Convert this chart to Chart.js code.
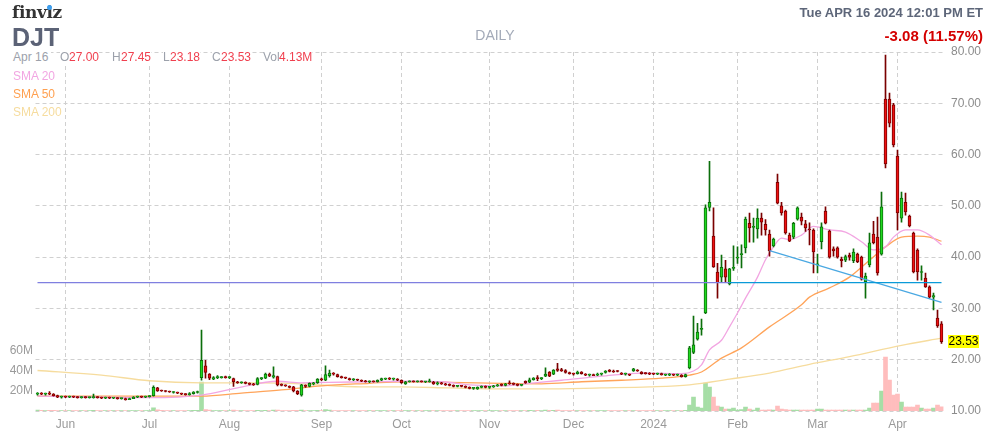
<!DOCTYPE html>
<html>
<head>
<meta charset="utf-8">
<script src="https://cdn.jsdelivr.net/npm/chart.js@4.4.1/dist/chart.umd.min.js"></script>
<style>
  body { margin: 0; background: #fff; }
  #wrap { position: relative; width: 996px; height: 442px; font-family: "Liberation Sans", Arial, sans-serif; }
  #wrap canvas { position: absolute; left: 0; top: 0; }
  .t { position: absolute; white-space: nowrap; line-height: 16px; font-size: 12px; }
  .lg { background: #fff; line-height: 13px; }
  .g { color: #9ca1ab; }
  .r { color: #f0404f; }
</style>
</head>
<body>
<div id="wrap">
  <canvas id="myChart" width="996" height="442"></canvas>

  <div class="t" style="left:12px;top:1px;font:bold 17px 'DejaVu Serif',serif;line-height:22px;color:#333;letter-spacing:-0.4px">finviz</div>
  <div style="position:absolute;left:47px;top:5px;width:5px;height:5px;border-radius:50%;background:#3d9ff0"></div>
  <div class="t" style="left:12px;top:23px;font-size:25px;font-weight:bold;line-height:28px;color:#5b6276">DJT</div>
  <div class="t" style="left:445px;top:27px;width:100px;text-align:center;font-size:14px;color:#a3aab8">DAILY</div>
  <div class="t" style="right:13px;top:5px;font-size:13px;font-weight:bold;color:#5d6679">Tue APR 16 2024 12:01 PM ET</div>
  <div class="t" style="right:13px;top:28px;font-size:15px;font-weight:bold;color:#d40000">-3.08 (11.57%)</div>

  <div class="t lg g" style="left:10px;top:50px;padding:0 3px;line-height:15px">Apr 16</div>
  <div class="t lg g" style="left:60px;top:51px">O</div><div class="t lg r" style="left:69px;top:51px">27.00</div>
  <div class="t lg g" style="left:112px;top:51px">H</div><div class="t lg r" style="left:121px;top:51px">27.45</div>
  <div class="t lg g" style="left:163px;top:51px">L</div><div class="t lg r" style="left:170px;top:51px">23.18</div>
  <div class="t lg g" style="left:212px;top:51px">C</div><div class="t lg r" style="left:221px;top:51px">23.53</div>
  <div class="t lg g" style="left:263px;top:51px">Vol</div><div class="t lg r" style="left:279px;top:51px">4.13M</div>

  <div class="t" style="left:13px;top:68px;color:#f2a6e2">SMA 20</div>
  <div class="t" style="left:13px;top:86px;color:#ffa050">SMA 50</div>
  <div class="t" style="left:13px;top:104px;color:#f6dc9e">SMA 200</div>

  <div id="lastPrice" style="position:absolute;left:948px;top:335px;width:31px;height:13px;line-height:13px;background:#ffff00;color:#000;font-size:12px;text-align:center">23.53</div>
</div>

<script>
// trading days 2023-05-22 .. 2024-04-16
const holidays = ['2023-05-29','2023-06-19','2023-07-04','2023-09-04','2023-11-23','2023-12-25',
  '2024-01-01','2024-01-15','2024-02-19','2024-03-29'];
const dates = [];
for (let d = new Date(Date.UTC(2023, 4, 22)); d <= new Date(Date.UTC(2024, 3, 16)); d.setUTCDate(d.getUTCDate() + 1)) {
  const s = d.toISOString().slice(0, 10);
  const wd = d.getUTCDay();
  if (wd === 0 || wd === 6 || holidays.includes(s)) continue;
  dates.push(s);
}

const opens = [
  13.3,13.4,13.3,13.4,13.3,13.0,12.7,12.8,12.7,12.8,
  12.7,12.6,12.7,12.6,12.6,12.7,12.6,12.5,12.6,12.5,
  12.5,12.4,12.4,12.2,12.4,12.7,12.8,12.7,12.8,13.0,
  14.5,14.0,13.9,13.8,13.6,13.6,13.4,13.3,13.2,13.4,
  13.6,16.5,18.8,17.2,16.2,16.5,16.5,16.6,16.5,16.3,
  15.7,15.5,15.6,15.4,15.2,15.2,16.3,16.4,17.2,16.6,
  16.7,15.1,15.0,14.8,14.7,13.9,13.1,15.0,14.8,15.3,
  15.5,16.2,16.0,16.9,17.4,17.1,16.7,16.5,16.3,16.1,
  16.1,16.0,15.8,15.7,15.8,15.7,16.0,16.2,16.3,16.2,
  16.2,16.0,15.3,15.7,15.8,15.7,15.8,15.7,15.7,15.6,
  15.3,15.5,15.3,15.1,15.0,14.8,14.9,14.8,14.6,14.4,
  14.3,14.6,14.8,14.6,14.7,14.9,15.1,15.0,15.4,15.3,
  15.2,15.0,15.8,15.6,16.1,16.4,16.3,16.8,17.6,17.2,
  18.2,18.1,17.9,17.5,17.3,17.3,17.6,17.2,17.0,17.1,
  17.0,17.2,17.5,18.0,17.7,17.8,17.4,17.2,17.1,17.8,
  18.0,17.6,17.4,17.3,17.3,17.2,17.3,17.0,17.0,17.1,
  17.0,17.0,16.7,18.4,21.4,24.0,25.9,29.1,49.7,44.1,
  37.1,36.1,37.7,34.8,37.8,39.8,40.5,41.8,46.6,45.8,
  45.5,47.6,46.4,44.5,42.2,54.6,50.0,49.0,44.3,43.9,
  47.4,47.8,46.5,45.4,45.3,38.5,43.0,49.0,45.1,41.6,
  41.8,39.6,39.4,40.4,39.3,40.6,40.0,35.2,38.5,44.5,
  43.9,40.6,70.8,70.8,69.7,59.7,47.6,50.7,48.0,44.7,
  41.4,37.0,35.9,34.2,32.2,28.1,27.0
];
const highs = [
  13.6,13.6,13.5,13.8,13.4,13.1,12.9,12.9,12.9,12.9,
  12.8,12.8,12.8,12.7,13.3,12.8,12.7,12.7,12.7,12.6,
  12.6,12.5,12.5,12.5,12.8,12.9,12.9,12.9,13.0,14.9,
  14.6,14.1,14.0,13.9,13.8,13.7,13.5,13.4,13.6,13.8,
  13.9,25.8,19.9,17.3,16.7,16.9,16.7,16.8,16.7,16.4,
  15.8,15.7,15.7,15.5,15.4,16.5,16.5,17.4,17.4,18.6,
  16.8,15.3,15.1,14.9,14.8,14.0,15.2,15.1,15.5,15.6,
  16.3,16.4,18.8,18.0,17.5,17.2,16.8,16.6,16.4,16.3,
  16.2,16.1,16.0,15.9,15.9,16.1,16.4,16.4,16.5,16.4,
  16.3,16.1,15.8,15.9,15.9,15.9,15.9,15.8,16.2,15.8,
  15.7,15.6,15.4,15.3,15.1,15.0,15.0,14.9,14.7,14.6,
  14.7,14.9,14.9,14.8,15.0,15.2,15.3,15.4,15.9,15.5,
  15.3,15.2,15.9,16.4,16.5,16.9,16.5,18.4,17.7,18.1,
  19.3,18.3,18.1,17.6,17.4,17.8,17.7,17.3,17.2,17.2,
  17.4,17.4,17.9,18.1,18.0,17.9,17.5,17.4,17.2,18.3,
  18.1,17.7,17.5,17.5,17.4,17.4,17.4,17.2,17.3,17.2,
  17.2,17.1,17.2,22.6,28.5,27.1,27.9,50.2,58.7,49.6,
  38.8,40.4,39.4,37.8,42.2,42.0,42.4,47.8,48.6,47.6,
  49.4,48.6,47.3,45.3,43.7,56.2,50.7,49.2,44.7,46.8,
  49.8,48.6,47.2,46.7,45.5,40.6,46.7,49.8,45.3,42.0,
  42.0,40.0,40.4,40.8,41.6,40.8,40.2,36.9,44.7,47.0,
  47.8,52.7,79.4,72.0,70.0,60.9,52.7,52.5,48.2,44.9,
  41.6,38.3,36.9,34.4,33.0,29.7,27.45
];
const lows = [
  13.1,13.2,13.1,13.2,12.9,12.6,12.5,12.6,12.6,12.6,
  12.5,12.5,12.5,12.5,12.5,12.5,12.4,12.4,12.4,12.4,
  12.3,12.3,12.1,12.2,12.4,12.6,12.6,12.6,12.7,12.9,
  13.8,13.8,13.7,13.6,13.5,13.4,13.2,13.1,13.1,13.3,
  13.5,16.0,16.4,16.1,16.1,16.3,16.4,16.4,16.3,14.8,
  15.4,15.4,15.3,15.1,15.0,15.1,16.1,16.3,16.7,16.4,
  14.9,14.9,14.8,14.5,13.7,13.2,12.9,14.6,14.7,15.1,
  15.4,15.9,15.9,16.6,17.0,16.6,16.4,16.3,16.0,15.9,
  15.9,15.7,15.6,15.5,15.6,15.6,15.9,16.1,16.1,16.0,
  15.9,15.4,15.2,15.6,15.6,15.6,15.6,15.5,15.6,15.2,
  15.1,15.2,15.0,14.9,14.7,14.7,14.7,14.5,14.3,14.2,
  14.2,14.5,14.5,14.4,14.6,14.8,14.9,14.9,15.2,15.1,
  14.9,14.9,15.4,15.5,16.0,15.9,16.1,16.7,16.7,17.1,
  17.7,17.7,17.4,17.2,17.0,17.2,17.2,16.9,16.8,16.9,
  16.9,17.0,17.4,17.6,17.5,17.6,17.1,17.0,16.9,17.7,
  17.7,17.2,17.2,17.1,17.1,17.1,17.0,16.9,16.9,16.9,
  16.9,16.6,16.6,18.2,21.2,23.8,24.8,29.0,49.0,38.0,
  32.0,35.1,35.0,34.6,37.4,38.8,37.9,40.8,42.9,42.9,
  43.7,44.3,44.3,40.2,42.0,50.4,48.2,44.5,43.0,43.6,
  47.2,46.3,45.0,42.4,36.9,36.9,41.6,46.5,39.8,40.2,
  39.8,38.1,39.1,39.4,38.9,38.9,35.5,32.0,38.1,42.6,
  36.5,40.4,57.4,65.4,61.5,45.3,46.8,48.2,45.9,36.9,
  35.5,35.5,34.1,32.0,29.7,26.3,23.18
];
const closes = [
  13.4,13.3,13.4,13.3,13.0,12.7,12.8,12.7,12.8,12.7,
  12.6,12.7,12.6,12.6,12.7,12.6,12.5,12.6,12.5,12.5,
  12.4,12.4,12.2,12.4,12.7,12.8,12.7,12.8,12.9,14.6,
  13.9,13.9,13.8,13.7,13.7,13.5,13.3,13.2,13.4,13.7,
  13.7,19.9,17.5,16.4,16.5,16.5,16.6,16.5,16.6,15.7,
  15.5,15.6,15.4,15.2,15.1,16.3,16.4,17.2,16.8,16.9,
  15.1,15.0,14.9,14.6,13.9,13.4,15.1,14.8,15.4,15.5,
  16.2,16.1,17.1,17.4,17.2,16.7,16.5,16.4,16.1,16.2,
  16.0,15.8,15.7,15.8,15.7,16.0,16.3,16.3,16.2,16.3,
  16.0,15.5,15.7,15.8,15.7,15.8,15.7,15.7,15.8,15.3,
  15.5,15.3,15.1,15.0,14.8,14.9,14.8,14.6,14.4,14.5,
  14.6,14.8,14.6,14.7,14.9,15.1,15.0,15.3,15.3,15.2,
  15.0,15.1,15.5,16.1,16.4,16.3,16.3,17.2,16.8,18.0,
  17.9,17.8,17.5,17.3,17.2,17.6,17.3,17.0,17.1,16.9,
  17.2,17.2,17.8,17.7,17.6,17.7,17.2,17.2,17.0,18.2,
  17.8,17.3,17.3,17.2,17.2,17.3,17.1,17.1,17.2,17.0,
  17.1,16.7,17.1,22.3,22.9,25.4,26.1,49.6,50.7,38.1,
  35.0,38.0,36.1,37.7,38.0,40.0,40.7,47.4,45.7,45.9,
  47.6,46.8,45.3,41.2,43.5,50.5,48.6,44.7,43.1,46.6,
  49.6,47.0,45.7,45.3,41.0,38.7,45.9,46.6,40.0,41.2,
  40.0,39.3,40.1,40.0,41.0,39.1,35.7,36.3,42.8,42.8,
  36.9,49.8,58.2,66.1,61.9,48.6,51.5,48.8,46.1,37.1,
  37.1,37.1,34.2,32.2,32.5,26.6,23.53
];
// volume in millions
const volumes = [
  0.8,0.6,0.5,0.7,0.6,0.5,0.5,0.5,0.4,0.5,
  0.4,0.4,0.4,0.4,0.6,0.4,0.4,0.3,0.4,0.3,
  0.4,0.3,0.5,0.4,0.5,0.4,0.3,0.3,0.3,3.2,
  1.2,0.6,0.4,0.4,0.4,0.3,0.4,0.3,0.4,0.6,
  0.6,29,1.5,0.8,0.5,0.4,0.3,0.3,0.3,0.8,
  0.5,0.4,0.3,0.4,0.3,0.6,0.4,0.7,0.5,0.9,
  0.9,0.4,0.3,0.4,0.7,0.6,1.0,0.5,0.4,0.4,
  0.6,0.4,1.5,0.8,0.5,0.5,0.4,0.3,0.4,0.3,
  0.3,0.3,0.3,0.3,0.3,0.4,0.4,0.3,0.3,0.3,
  0.3,0.4,0.4,0.3,0.3,0.3,0.3,0.3,0.4,0.4,
  0.3,0.3,0.3,0.3,0.3,0.3,0.3,0.3,0.4,0.3,
  0.4,0.4,0.3,0.3,0.3,0.4,0.3,0.4,0.5,0.3,
  0.3,0.3,0.5,0.6,0.5,0.6,0.4,0.9,0.6,0.7,
  0.8,0.5,0.4,0.3,0.3,0.4,0.3,0.3,0.3,0.3,
  0.3,0.3,0.4,0.4,0.3,0.3,0.3,0.3,0.3,0.5,
  0.4,0.3,0.3,0.3,0.3,0.3,0.3,0.3,0.3,0.3,
  0.3,0.4,0.6,6,14,4,3,28,24,14,
  5,4,2,2,3,1,1.5,4,2,1,
  3,1,1,1.2,1,5,2,1.5,1,1,
  1,1,1,1,1,2,2,1,1,1,
  1,1,1,1,1,1,1,1,3,8,
  8,20,54,31,16,17,9,4,4,4,
  6,3,2,2,3,6,4.13
];

// moving averages: [day index, value]
const sma20 = [[0,12.9],[28,12.6],[41,13.1],[50,14.5],[60,15.8],[66,15.5],[73,15.6],[83,15.7],[91,15.8],
  [101,15.7],[108,15.1],[116,14.9],[123,15.4],[131,16.0],[141,16.8],[151,17.4],[161,17.3],[164,17.8],
  [166,19.0],[168,21.9],[171,23.8],[173,26.4],[175,29.1],[177,32.0],[180,36.1],[182,39.5],[184,42.0],
  [186,43.7],[188,43.4],[191,44.3],[194,46.0],[198,45.3],[202,44.9],[206,43.0],[209,41.4],[212,42.0],
  [214,43.9],[217,45.3],[220,45.3],[223,44.3],[226,42.4]];
const sma50 = [[0,12.9],[28,12.9],[41,12.9],[51,13.5],[61,14.1],[71,14.9],[83,15.4],[91,15.7],[103,15.6],
  [116,15.4],[126,15.3],[136,15.7],[146,16.0],[156,16.4],[163,17.0],[166,17.6],[171,20.3],[176,22.3],
  [183,26.4],[191,30.7],[193,32.2],[198,34.0],[203,36.1],[208,39.4],[212,42.0],[216,43.9],[220,44.1],
  [223,43.9],[226,43.1]];
const sma200 = [[0,17.9],[16,17.0],[28,15.9],[41,15.5],[56,15.5],[66,15.3],[81,14.7],[91,14.7],[103,14.5],
  [116,14.3],[126,14.3],[141,14.5],[153,14.7],[163,15.1],[173,16.2],[183,17.4],[193,19.1],[203,20.6],
  [216,22.8],[226,24.2]];

// drawn trend lines: [day index, price]
const hLine = [[0,35.05],[173,35.05]];
const hLine2 = [[173,35.05],[226,35.05]];
const trendLine = [[183,41.25],[226,31.19]];

const priceTicks = [10,20,30,40,50,60,70,80];
const volTicks = [20,40,60];
const monthNames = ['Jan','Feb','Mar','Apr','May','Jun','Jul','Aug','Sep','Oct','Nov','Dec'];

const monthLabels = {};
dates.forEach((d, i) => {
  if (i > 0 && d.slice(5, 7) !== dates[i - 1].slice(5, 7)) {
    const m = +d.slice(5, 7);
    monthLabels[i] = m === 1 ? d.slice(0, 4) : monthNames[m - 1];
  }
});

const up = closes.map((c, i) => c >= opens[i]);
const pts = (arr) => arr.map(([i, v]) => ({x: dates[i], y: v}));

const lineDs = (label, arr, color, width, order, smooth) => ({
  type: 'line', label: label, data: pts(arr), yAxisID: 'y',
  borderColor: color, borderWidth: width, pointRadius: 0,
  cubicInterpolationMode: smooth ? 'monotone' : 'default', tension: 0, order: order
});

const priceTag = {
  id: 'priceTag',
  afterDraw(chart) {
    const y = chart.scales.y.getPixelForValue(closes[closes.length - 1]);
    document.getElementById('lastPrice').style.top = (y - 6.5) + 'px';
  }
};

const tickFont = {family: "'Liberation Sans', Arial, sans-serif", size: 12};

new Chart(document.getElementById('myChart'), {
  type: 'bar',
  data: {
    labels: dates,
    datasets: [
      {
        label: 'Volume', data: volumes, yAxisID: 'vol', order: 10, grouped: false,
        backgroundColor: up.map(u => u ? '#a6dea6' : '#ffbdbd'),
        barPercentage: 1, categoryPercentage: 1
      },
      lineDs('SMA 200', sma200, '#f6dc9e', 1.3, 7, true),
      lineDs('SMA 50', sma50, '#ffa45a', 1.3, 6, true),
      lineDs('SMA 20', sma20, '#f2a6e2', 1.3, 5, true),
      {
        label: 'Wick', data: highs.map((h, i) => [lows[i], h]), yAxisID: 'y', order: 3, grouped: false,
        backgroundColor: up.map(u => u ? '#0b6e0b' : '#7a0000'),
        barThickness: 1
      },
      {
        label: 'Body', data: closes.map((c, i) => [Math.min(opens[i], c), Math.max(opens[i], c)]),
        yAxisID: 'y', order: 2, grouped: false,
        backgroundColor: up.map(u => u ? '#1fd91f' : '#ee1111'),
        borderColor: up.map(u => u ? '#0b6e0b' : '#7a0000'),
        borderWidth: 1, borderSkipped: false, barThickness: 3, minBarLength: 1
      },
      lineDs('Level', hLine, '#7f7fe0', 1.3, 1, false),
      lineDs('Level 2', hLine2, '#0a9ad8', 1.3, 1, false),
      lineDs('Trend', trendLine, '#4aa8e2', 1.3, 1, false)
    ]
  },
  options: {
    responsive: false,
    animation: false,
    events: [],
    layout: {padding: {top: 52, left: 0.5, right: 0, bottom: 0}},
    plugins: {legend: {display: false}, tooltip: {enabled: false}},
    scales: {
      x: {
        type: 'category', offset: true,
        grid: {offset: false, color: '#d0d0d0', drawTicks: false},
        border: {display: false, dash: [4, 3]},
        ticks: {
          autoSkip: false, maxRotation: 0, padding: 6, color: '#9a9a9a', font: tickFont,
          callback: (v) => monthLabels[v] || ''
        },
        afterBuildTicks: (s) => { s.ticks = Object.keys(monthLabels).map(k => ({value: +k})); },
        afterFit: (s) => { s.height = 31; }
      },
      y: {
        type: 'linear', position: 'right', min: 10, max: 80,
        grid: {color: '#d0d0d0', drawTicks: false},
        border: {display: false, dash: [4, 3]},
        ticks: {padding: 7.5, color: '#8c8c8c', font: tickFont, callback: (v) => v.toFixed(2)},
        afterBuildTicks: (s) => { s.ticks = priceTicks.map(v => ({value: v})); },
        afterFit: (s) => { s.width = 52.5; }
      },
      vol: {
        type: 'linear', position: 'left', min: 0, max: 359,
        grid: {display: false, drawTicks: false},
        border: {display: false},
        ticks: {padding: 2.5, color: '#9a9a9a', font: tickFont, callback: (v) => v + 'M'},
        afterBuildTicks: (s) => { s.ticks = volTicks.map(v => ({value: v})); },
        afterFit: (s) => { s.width = 35; }
      }
    }
  },
  plugins: [priceTag]
});
</script>
</body>
</html>
